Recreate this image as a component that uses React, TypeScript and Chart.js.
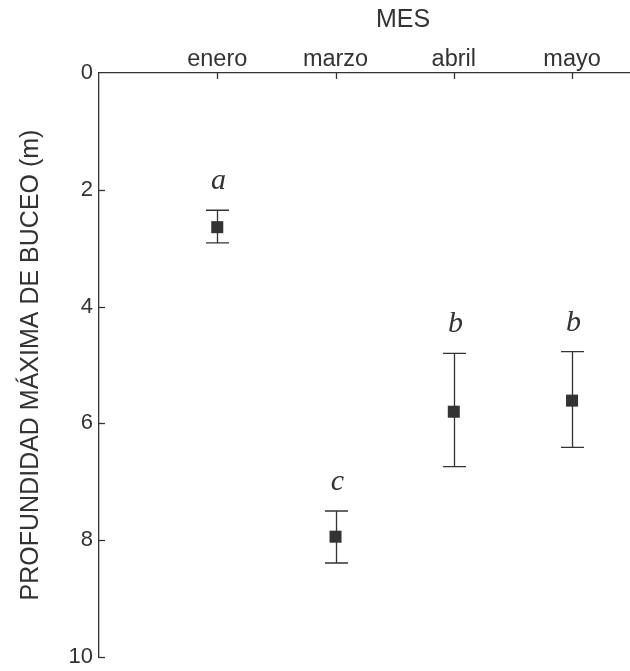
import React, { useEffect, useRef } from "react";
import { Chart, registerables } from "chart.js";

Chart.register(...registerables);

const months = ["enero", "marzo", "abril", "mayo"];
const positions = [1, 2, 3, 4];
const means = [2.64, 7.94, 5.8, 5.61];
const errLow = [2.35, 7.5, 4.8, 4.77];
const errHigh = [2.91, 8.39, 6.74, 6.41];
const groupLetters = ["a", "c", "b", "b"];
const yTicks = [0, 2, 4, 6, 8, 10];

const INK = "#333333";
const SANS = "'Liberation Sans', Arial, Helvetica, sans-serif";

const decorPlugin = {
  id: "decor",
  beforeDatasetsDraw(chart: any) {
    const { ctx, scales, chartArea } = chart;
    const xs = scales.x;
    const ys = scales.y;
    ctx.save();
    ctx.strokeStyle = INK;
    ctx.lineWidth = 1.3;
    // inward ticks
    yTicks.forEach((v) => {
      if (v === 0) return;
      const py = Math.round(ys.getPixelForValue(v)) + 0.5;
      ctx.beginPath();
      ctx.moveTo(chartArea.left, py);
      ctx.lineTo(chartArea.left + 6, py);
      ctx.stroke();
    });
    positions.forEach((p) => {
      const px = Math.round(xs.getPixelForValue(p)) + 0.5;
      ctx.beginPath();
      ctx.moveTo(px, chartArea.top);
      ctx.lineTo(px, chartArea.top + 6);
      ctx.stroke();
    });
    // error bars
    const cap = 11.5;
    positions.forEach((p, i) => {
      const px = Math.round(xs.getPixelForValue(p)) + 0.5;
      const y1 = ys.getPixelForValue(errLow[i]);
      const y2 = ys.getPixelForValue(errHigh[i]);
      ctx.beginPath();
      ctx.moveTo(px, y1);
      ctx.lineTo(px, y2);
      ctx.moveTo(px - cap, y1);
      ctx.lineTo(px + cap, y1);
      ctx.moveTo(px - cap, y2);
      ctx.lineTo(px + cap, y2);
      ctx.stroke();
      // letters
      ctx.fillStyle = INK;
      ctx.font = "italic 30px 'Liberation Serif', 'Times New Roman', serif";
      ctx.textAlign = "center";
      ctx.textBaseline = "alphabetic";
      ctx.fillText(groupLetters[i], px + 1, y1 - 21);
    });
    // top title
    ctx.fillStyle = INK;
    ctx.font = "25px " + SANS;
    ctx.textAlign = "center";
    ctx.textBaseline = "alphabetic";
    ctx.fillText("MES", 403, 27);
    ctx.restore();
  },
};

export default function App() {
  const ref = useRef<HTMLCanvasElement | null>(null);
  useEffect(() => {
    if (!ref.current) return;
    const chart = new Chart(ref.current, {
      type: "scatter",
      data: {
        datasets: [
          {
            label: "Profundidad",
            data: positions.map((p, i) => ({ x: p, y: means[i] })),
            pointStyle: "rect",
            pointRadius: 8.5,
            pointHoverRadius: 8.5,
            backgroundColor: INK,
            borderColor: INK,
            borderWidth: 0,
          },
        ],
      },
      options: {
        responsive: false,
        animation: false,
        layout: { autoPadding: false, padding: { left: 0, right: 0, top: 0, bottom: 14 } },
        plugins: {
          legend: { display: false },
          tooltip: { enabled: false },
        },
        scales: {
          x: {
            type: "linear",
            position: "top",
            min: 0,
            max: 4.49,
            afterBuildTicks: (scale: any) => {
              scale.ticks = positions.map((v) => ({ value: v }));
            },
            afterFit: (scale: any) => {
              scale.height = 73;
              scale.paddingLeft = 0;
              scale.paddingRight = 0;
            },
            ticks: {
              autoSkip: false,
              maxRotation: 0,
              padding: -1,
              color: INK,
              font: { family: SANS, size: 23.5 },
              callback: (v: any) => months[positions.indexOf(Number(v))] ?? "",
            },
            grid: { display: false, drawTicks: false },
            border: { display: true, color: INK, width: 1.3 },
          },
          y: {
            type: "linear",
            reverse: true,
            min: 0,
            max: 10,
            afterBuildTicks: (scale: any) => {
              scale.ticks = yTicks.map((v) => ({ value: v }));
            },
            afterFit: (scale: any) => {
              scale.width = 99;
              scale.paddingTop = 0;
              scale.paddingBottom = 0;
            },
            ticks: {
              padding: 6,
              color: INK,
              font: { family: SANS, size: 22 },
            },
            grid: { display: false, drawTicks: false },
            border: { display: true, color: INK, width: 1.3 },
            title: {
              display: true,
              text: "PROFUNDIDAD MÁXIMA DE BUCEO (m)",
              color: INK,
              font: { family: SANS, size: 25 },
              padding: { top: 16, bottom: 0 },
            },
          },
        },
      },
      plugins: [decorPlugin],
    });
    return () => chart.destroy();
  }, []);
  return (
    <div style={{ position: "absolute", left: 0, top: 0, width: 630, height: 671, background: "#fff" }}>
      <canvas ref={ref} width={630} height={671} />
    </div>
  );
}
